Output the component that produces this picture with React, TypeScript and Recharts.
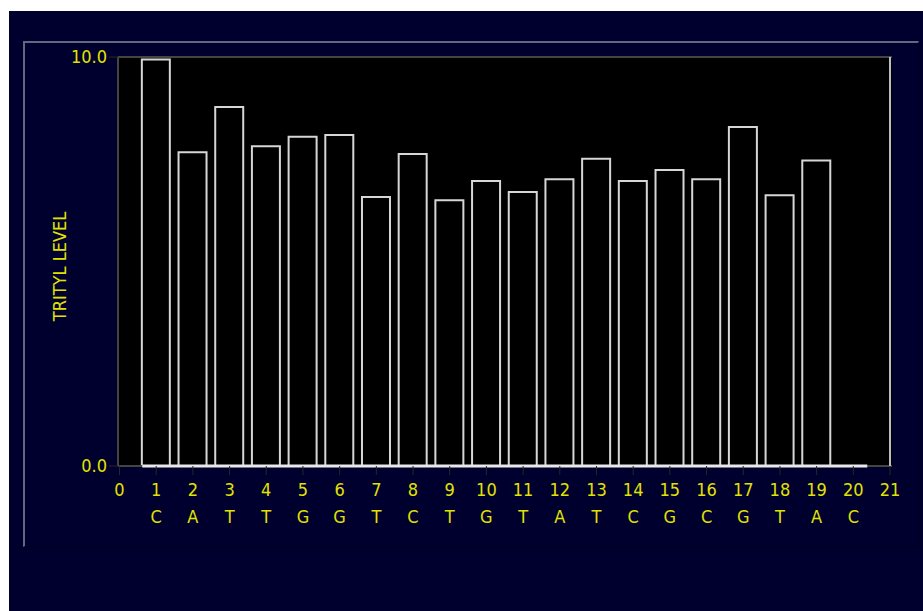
import * as React from "react";
import {
  BarChart,
  Bar,
  XAxis,
  YAxis,
  CartesianGrid,
  ReferenceLine,
} from "recharts";

// cycle number, base and trityl level
const cycles = [1, 2, 3, 4, 5, 6, 7, 8, 9, 10, 11, 12, 13, 14, 15, 16, 17, 18, 19, 20];
const bases = ["C", "A", "T", "T", "G", "G", "T", "C", "T", "G", "T", "A", "T", "C", "G", "C", "G", "T", "A", "C"];
const tritylLevels = [9.94, 7.67, 8.78, 7.82, 8.05, 8.09, 6.58, 7.63, 6.5, 6.97, 6.7, 7.01, 7.51, 6.97, 7.24, 7.01, 8.29, 6.62, 7.47, 0];
const xTicks = [0, 1, 2, 3, 4, 5, 6, 7, 8, 9, 10, 11, 12, 13, 14, 15, 16, 17, 18, 19, 20, 21];
const yTicks = [0, 10];

const YELLOW = "#e2e200";
const FONT = "'Liberation Sans Narrow', 'DejaVu Sans Condensed', 'Liberation Sans', sans-serif";

const data = cycles.map((c, i) => ({ cycle: c, base: bases[i], level: tritylLevels[i] }));

function CycleTick(props: any) {
  const { x, y, payload } = props;
  const idx = cycles.indexOf(payload.value);
  return (
    <g>
      <text x={x} y={y + 19} textAnchor="middle" fill={YELLOW} fontSize={18} fontFamily={FONT}>
        {payload.value}
      </text>
      {idx >= 0 && (
        <text x={x} y={y + 46} textAnchor="middle" fill={YELLOW} fontSize={18} fontFamily={FONT}>
          {bases[idx]}
        </text>
      )}
    </g>
  );
}

function YTitle(props: any) {
  const vb = props.viewBox || { x: 58, y: 57, width: 60, height: 409 };
  const cx = vb.x + 1;
  const cy = vb.y + vb.height / 2 + 5;
  return (
    <text
      x={0}
      y={0}
      transform={`translate(${cx},${cy}) rotate(-90)`}
      textAnchor="middle"
      dominantBaseline="central"
      fill={YELLOW}
      fontSize={18}
      fontFamily={FONT}
    >
      TRITYL LEVEL
    </text>
  );
}

export default function App() {
  return (
    <div style={{ position: "absolute", left: 0, top: 0, width: 923, height: 611 }}>
      <div
        style={{
          position: "absolute",
          left: 9,
          top: 11,
          width: 914,
          height: 600,
          background: "#00002e",
        }}
      />
      <div
        style={{
          position: "absolute",
          left: 23,
          top: 41,
          width: 893,
          height: 503,
          borderTop: "2px solid #66667f",
          borderLeft: "2px solid #66667f",
          borderRight: "1px solid #000018",
          borderBottom: "1px solid #000018",
        }}
      />
      <div style={{ position: "absolute", left: 0, top: 0 }}>
        <BarChart
          width={923}
          height={611}
          data={data}
          margin={{ top: 57, right: 31, left: 58, bottom: 85 }}
        >
          <CartesianGrid fill="#000000" stroke="none" horizontal={false} vertical={false} />
          <XAxis
            dataKey="cycle"
            type="number"
            domain={[0, 21]}
            ticks={xTicks}
            interval={0}
            height={60}
            padding={{ left: 1.5, right: 2 }}
            axisLine={false}
            tickSize={9}
            tickLine={{ stroke: "#262626" }}
            tick={<CycleTick />}
          />
          <YAxis
            type="number"
            domain={[0, 10]}
            ticks={yTicks}
            width={60}
            axisLine={{ stroke: "#444444", strokeWidth: 2 }}
            tickSize={9}
            tickLine={{ stroke: "#262626" }}
            tickFormatter={(v: number) => v.toFixed(1)}
            tick={{ fill: YELLOW, fontSize: 18, fontFamily: FONT }}
            label={{ content: <YTitle /> }}
          />
          <ReferenceLine y={10} stroke="#444444" strokeWidth={2} />
          <ReferenceLine y={0} stroke="#444444" strokeWidth={2} />
          <ReferenceLine x={21} stroke="#bdbdbd" strokeWidth={2} />
          <Bar
            dataKey="level"
            barSize={28}
            fill="#000000"
            stroke="#d6d6d6"
            strokeWidth={2}
            isAnimationActive={false}
          />
          <ReferenceLine
            segment={[
              { x: 0.62, y: 0 },
              { x: 20.38, y: 0 },
            ]}
            stroke="#e8e8e8"
            strokeWidth={3}
          />
        </BarChart>
      </div>
    </div>
  );
}
